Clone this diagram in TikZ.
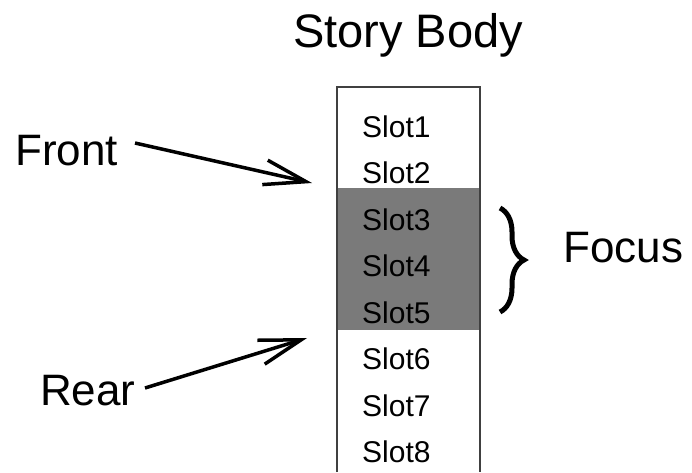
\documentclass[tikz,border=0pt]{standalone}
\usepackage{fontspec}
\setmainfont{Liberation Sans}
\usetikzlibrary{arrows.meta,decorations.pathreplacing}

\tikzset{
  label/.style={inner sep=0pt, anchor=base west, font=\fontsize{44}{48}\selectfont},
  title/.style={inner sep=0pt, anchor=base west, font=\fontsize{47}{50}\selectfont},
  slot/.style={inner sep=0pt, anchor=base west, font=\fontsize{30}{33}\selectfont},
  pointer/.style={line width=3.5pt, -{Straight Barb[length=42pt,width=25pt,line width=3.5pt]}},
  frame/.style={draw=black!75, line width=1.2pt},
  focusfill/.style={fill=black!52},
}

\begin{document}
\begin{tikzpicture}[x=1pt,y=-1pt]
  \useasboundingbox (0,0) rectangle (692,472);

  % heading
  \node[title] (heading) at (293,47) {Story Body};

  % story body column with the focus window shaded
  \fill[focusfill] (337,188) rectangle (480,330);
  \draw[frame] (337,472) -- (337,87) -- (480,87) -- (480,472);

  \foreach \i/\y in {1/137,2/183.5,3/230,4/276.5,5/323,6/369.5,7/416,8/462.5}
    \node[slot] (slot\i) at (362,\y) {Slot\i};

  % front and rear pointers
  \node[label] (front) at (15,165) {Front};
  \node[label] (rear) at (40,405) {Rear};
  \coordinate (frontTail) at (135,143);
  \coordinate (frontHead) at (312,183);
  \coordinate (rearTail) at (145,388);
  \coordinate (rearHead) at (307,338);
  \draw[pointer] (frontTail) -- (frontHead);
  \draw[pointer] (rearTail) -- (rearHead);

  % focus brace
  \coordinate (braceTop) at (500,208);
  \coordinate (braceBot) at (500,312);
  \draw[line width=5pt, decorate, decoration={brace, amplitude=24pt}] (braceTop) -- (braceBot);
  \node[label] (focus) at (563,262) {Focus};
\end{tikzpicture}
\end{document}
